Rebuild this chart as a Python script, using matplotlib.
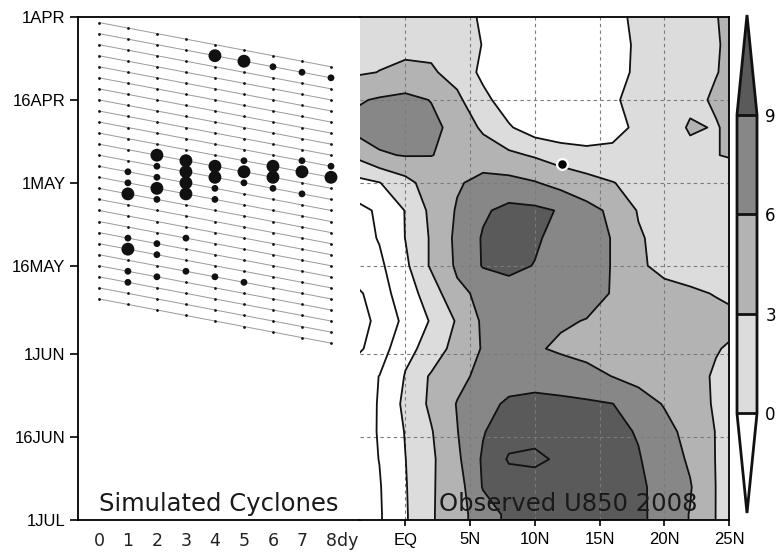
import numpy as np
import pandas as pd
import matplotlib
matplotlib.use("Agg")
import matplotlib.pyplot as plt
from matplotlib.colors import ListedColormap, BoundaryNorm

T0 = pd.Timestamp("2008-04-01")

# ---- time axis ----
date_ticks = ["2008-04-01", "2008-04-16", "2008-05-01", "2008-05-16",
              "2008-06-01", "2008-06-16", "2008-07-01"]
date_labels = ["1APR", "16APR", "1MAY", "16MAY", "1JUN", "16JUN", "1JUL"]

# ---- simulated cyclones: forecast runs (every 2 days) and lead times ----
run_starts = pd.date_range("2008-04-02", "2008-05-22", freq="2D")
lead_days = [0, 1, 2, 3, 4, 5, 6, 7, 8]
lead_labels = ["0", "1", "2", "3", "4", "5", "6", "7", "8"]

# storms found in the forecasts: run start, lead day, class (1 moderate, 2 strong)
storm_run = (["2008-04-04"] * 5 + ["2008-04-20"] * 2 + ["2008-04-22"] * 4 +
             ["2008-04-24"] * 5 + ["2008-04-26"] * 6 + ["2008-04-28"] * 4 +
             ["2008-04-30"] * 4 + ["2008-05-02"] * 2 + ["2008-05-08"] * 1 +
             ["2008-05-10"] * 2 + ["2008-05-12"] * 2 + ["2008-05-14"] * 3 +
             ["2008-05-16"] * 2 + ["2008-05-18"] * 1)
storm_lead = [4, 5, 6, 7, 8,
              7, 8,
              5, 6, 7, 8,
              2, 3, 4, 5, 6,
              2, 3, 4, 5, 6, 7,
              1, 2, 3, 4,
              1, 2, 3, 4,
              1, 2,
              3,
              1, 2,
              1, 2,
              3, 4, 5,
              1, 2,
              1]
storm_class = [2, 2, 1, 1, 1,
               1, 1,
               1, 2, 2, 2,
               2, 2, 2, 2, 2,
               1, 2, 2, 1, 1, 1,
               1, 1, 2, 1,
               1, 2, 2, 1,
               2, 1,
               1,
               1, 1,
               2, 1,
               1, 1, 1,
               1, 1,
               1]

# ---- observed 850 hPa zonal wind (m/s), latitude x time ----
lat_ticks = [0, 5, 10, 15, 20, 25]
lat_labels = ["EQ", "5N", "10N", "15N", "20N", "25N"]
u_lats = [-4, -2, 0, 2, 4, 6, 8, 10, 12, 14, 16, 18, 20, 22, 24, 26]
u_dates = pd.date_range("2008-04-01", periods=20, freq="5D")
u850 = [
    [2.0, 2.2, 2.3, 2.2, 1.2, -0.4, -1.5, -2.0, -2.0, -1.5, -0.8, 0.6, 1.6, 2.2, 2.95, 3.6],
    [2.2, 2.3, 2.4, 2.3, 1.5, -0.1, -1.8, -2.3, -2.3, -1.8, -1.0, 0.4, 1.5, 2.2, 2.9, 3.5],
    [2.6, 3.05, 3.5, 3.35, 2.0, -0.7, -2.0, -2.5, -2.5, -2.0, -1.0, 0.5, 1.6, 2.4, 2.95, 3.5],
    [5.6, 6.3, 6.8, 5.9, 3.6, 0.8, -1.5, -2.5, -2.5, -2.0, -0.5, 1.2, 2.0, 2.6, 3.2, 3.8],
    [6.8, 7.2, 7.4, 6.8, 5.0, 2.5, 0.3, -1.5, -2.0, -2.0, -1.0, 0.6, 2.0, 3.2, 2.9, 3.6],
    [3.4, 5.7, 6.15, 6.05, 5.5, 4.6, 3.6, 2.7, 1.6, 1.0, 0.8, 1.5, 2.0, 2.5, 2.95, 3.3],
    [-1.0, -0.1, 2.0, 4.5, 5.7, 6.8, 6.9, 6.2, 5.0, 4.0, 3.1, 2.2, 2.0, 2.0, 2.0, 2.0],
    [-4.2, -2.5, 0.1, 3.7, 6.26, 8.6, 9.8, 9.6, 8.8, 7.0, 5.4, 2.8, 2.2, 2.1, 2.0, 2.0],
    [-4.5, -2.8, 0.05, 3.33, 6.67, 9.26, 10.0, 9.4, 8.0, 7.0, 5.9, 3.3, 2.1, 2.0, 2.0, 2.0],
    [-4.2, -3.6, -0.6, 3.4, 6.46, 9.2, 9.7, 8.9, 7.9, 7.0, 5.9, 3.4, 2.3, 2.1, 2.1, 2.1],
    [-7.0, -4.3, -1.41, 1.41, 5.39, 6.61, 7.8, 8.2, 7.8, 7.0, 5.85, 4.5, 3.8, 3.3, 2.9, 2.6],
    [-8.0, -5.0, -2.33, 0.26, 3.3, 6.48, 7.0, 6.6, 6.3, 5.9, 5.3, 4.9, 4.6, 4.2, 3.6, 3.2],
    [-6.9, -4.6, -0.6, 0.73, 4.51, 6.17, 6.6, 6.3, 5.6, 5.0, 4.6, 4.3, 4.0, 3.6, 3.1, 2.6],
    [-4.5, -2.95, 0.15, 3.41, 5.2, 6.8, 7.6, 8.0, 7.6, 7.0, 5.95, 5.0, 4.4, 3.6, 2.8, 2.4],
    [-4.8, -2.8, 0.7, 3.57, 6.13, 8.0, 9.5, 9.7, 9.6, 9.4, 9.05, 7.5, 5.8, 4.2, 2.7, 2.3],
    [-4.6, -2.8, 0.15, 2.8, 5.9, 8.8, 10.8, 11.2, 10.3, 10.0, 9.7, 8.8, 7.0, 5.0, 2.9, 2.5],
    [-4.3, -2.95, -0.05, 2.5, 5.4, 9.4, 12.3, 12.5, 11.6, 10.6, 10.0, 9.2, 7.5, 5.6, 2.9, 2.3],
    [-4.5, -3.2, -0.2, 2.7, 4.6, 9.2, 10.5, 10.8, 10.6, 10.3, 10.0, 9.5, 8.0, 6.2, 2.95, 2.4],
    [-4.6, -3.3, -0.3, 2.7, 4.8, 7.6, 9.6, 10.2, 10.2, 10.0, 9.8, 9.8, 7.5, 5.9, 2.95, 2.4],
    [-4.6, -3.3, -0.3, 2.7, 4.8, 7.6, 9.6, 10.2, 10.2, 10.0, 9.8, 9.8, 7.5, 5.9, 2.95, 2.4],
]
fill_levels = [0, 3, 6, 9]
fill_colors = ["#dcdcdc", "#b3b3b3", "#878787"]
line_levels = [-9, -6, -3, 0, 3, 6, 9, 12]

# genesis position of the observed cyclone
genesis_lat = 12.1
genesis_time = "2008-04-27 14:00"


def day_number(t):
    """Days since 1 April 2008."""
    return np.asarray((pd.to_datetime(t) - T0) / pd.Timedelta("1D"), dtype=float)


SANS = ["Liberation Sans", "DejaVu Sans"]
THIN = ["DejaVu Sans"]

fig = plt.figure(figsize=(7.8, 5.52), dpi=100)
W, H = 780.0, 552.0
ax1 = fig.add_axes([78 / W, 32 / H, 282 / W, 503 / H])
ax2 = fig.add_axes([360 / W, 32 / H, 369 / W, 503 / H])
cax = fig.add_axes([737 / W, 39 / H, 20 / W, 498 / H])

tick_days = day_number(date_ticks)
y_top, y_bot = tick_days[0], tick_days[-1]

# ---------------- left panel: simulated cyclones ----------------
run_days = day_number(run_starts)
leads = np.asarray(lead_days, dtype=float)
for r in run_days:
    ax1.plot(leads, r + leads, color="#9a9a9a", lw=0.7, zorder=2)
    ax1.plot(leads, r + leads, ls="none", marker="o", ms=2.0,
             mfc="#111111", mec="none", zorder=3)

s_run = day_number(storm_run)
s_lead = np.asarray(storm_lead, dtype=float)
s_cls = np.asarray(storm_class)
dot_area = np.where(s_cls == 2, 86.0, 24.0)
ax1.scatter(s_lead, s_run + s_lead, s=dot_area, c="#111111",
            edgecolors="none", zorder=4)

ax1.set_xlim(-0.72, 9.0)
ax1.set_ylim(y_bot, y_top)
ax1.set_yticks(tick_days)
ax1.set_yticklabels(date_labels, family=SANS, fontsize=12)
ax1.tick_params(axis="y", direction="out", length=6, width=1.2, pad=3)
ax1.set_xticks(leads)
ax1.set_xticklabels(lead_labels, family=THIN, fontsize=12.5, color="#222222")
ax1.tick_params(axis="x", length=0, pad=9)
ax1.annotate("dy", xy=(8, 0), xycoords=("data", "axes fraction"),
             xytext=(4.5, -9), textcoords="offset points",
             ha="left", va="top", family=THIN, fontsize=12.5, color="#222222")
ax1.text(0.075, 0.018, "Simulated Cyclones", transform=ax1.transAxes,
         ha="left", va="baseline", family=THIN, fontsize=17.5, color="#1a1a1a")
for side in ("left", "top", "bottom"):
    ax1.spines[side].set_linewidth(1.3)
ax1.spines["right"].set_visible(False)

# ---------------- right panel: observed U850 ----------------
lat_g = np.asarray(u_lats, dtype=float)
day_g = day_number(u_dates)
U = np.asarray(u850)

cmap = ListedColormap(fill_colors)
cmap.set_under("white")
cmap.set_over("#5a5a5a")
norm = BoundaryNorm(fill_levels, cmap.N)
cf = ax2.contourf(lat_g, day_g, U, levels=fill_levels, cmap=cmap, norm=norm,
                  extend="both", zorder=1)
ax2.contour(lat_g, day_g, U, levels=line_levels, colors="#111111",
            linewidths=1.3, linestyles="solid", zorder=3)

for lat in lat_ticks[:-1]:
    ax2.axvline(lat, color="#7a7a7a", lw=0.8, ls=(0, (3, 3)), zorder=2)
for d in tick_days[1:-1]:
    ax2.axhline(d, color="#7a7a7a", lw=0.8, ls=(0, (3, 3)), zorder=2)

ax2.scatter([genesis_lat], day_number([genesis_time]), s=60, c="#000000",
            edgecolors="white", linewidths=1.6, zorder=5)

ax2.set_xlim(-3.5, 25)
ax2.set_ylim(y_bot, y_top)
ax2.set_yticks([])
ax2.set_xticks(lat_ticks)
ax2.set_xticklabels(lat_labels, family=SANS, fontsize=12)
ax2.tick_params(axis="x", direction="out", length=4, width=1.2, pad=5)
ax2.text(0.215, 0.018, "Observed U850 2008", transform=ax2.transAxes,
         ha="left", va="baseline", family=THIN, fontsize=17.5, color="#1a1a1a",
         zorder=6)
for side in ("right", "top", "bottom"):
    ax2.spines[side].set_linewidth(1.3)
ax2.spines["left"].set_visible(False)

# ---------------- colour bar ----------------
cb = fig.colorbar(cf, cax=cax, extend="both", extendfrac=1 / 3,
                  drawedges=True, ticks=fill_levels)
cb.outline.set_linewidth(2.0)
cb.outline.set_edgecolor("#111111")
cb.dividers.set_linewidth(2.0)
cb.dividers.set_color("#111111")
cb.ax.tick_params(length=0, pad=6)
for lab in cb.ax.get_yticklabels():
    lab.set_family(THIN)
    lab.set_fontsize(12)

fig.savefig("out.png", dpi=100)
